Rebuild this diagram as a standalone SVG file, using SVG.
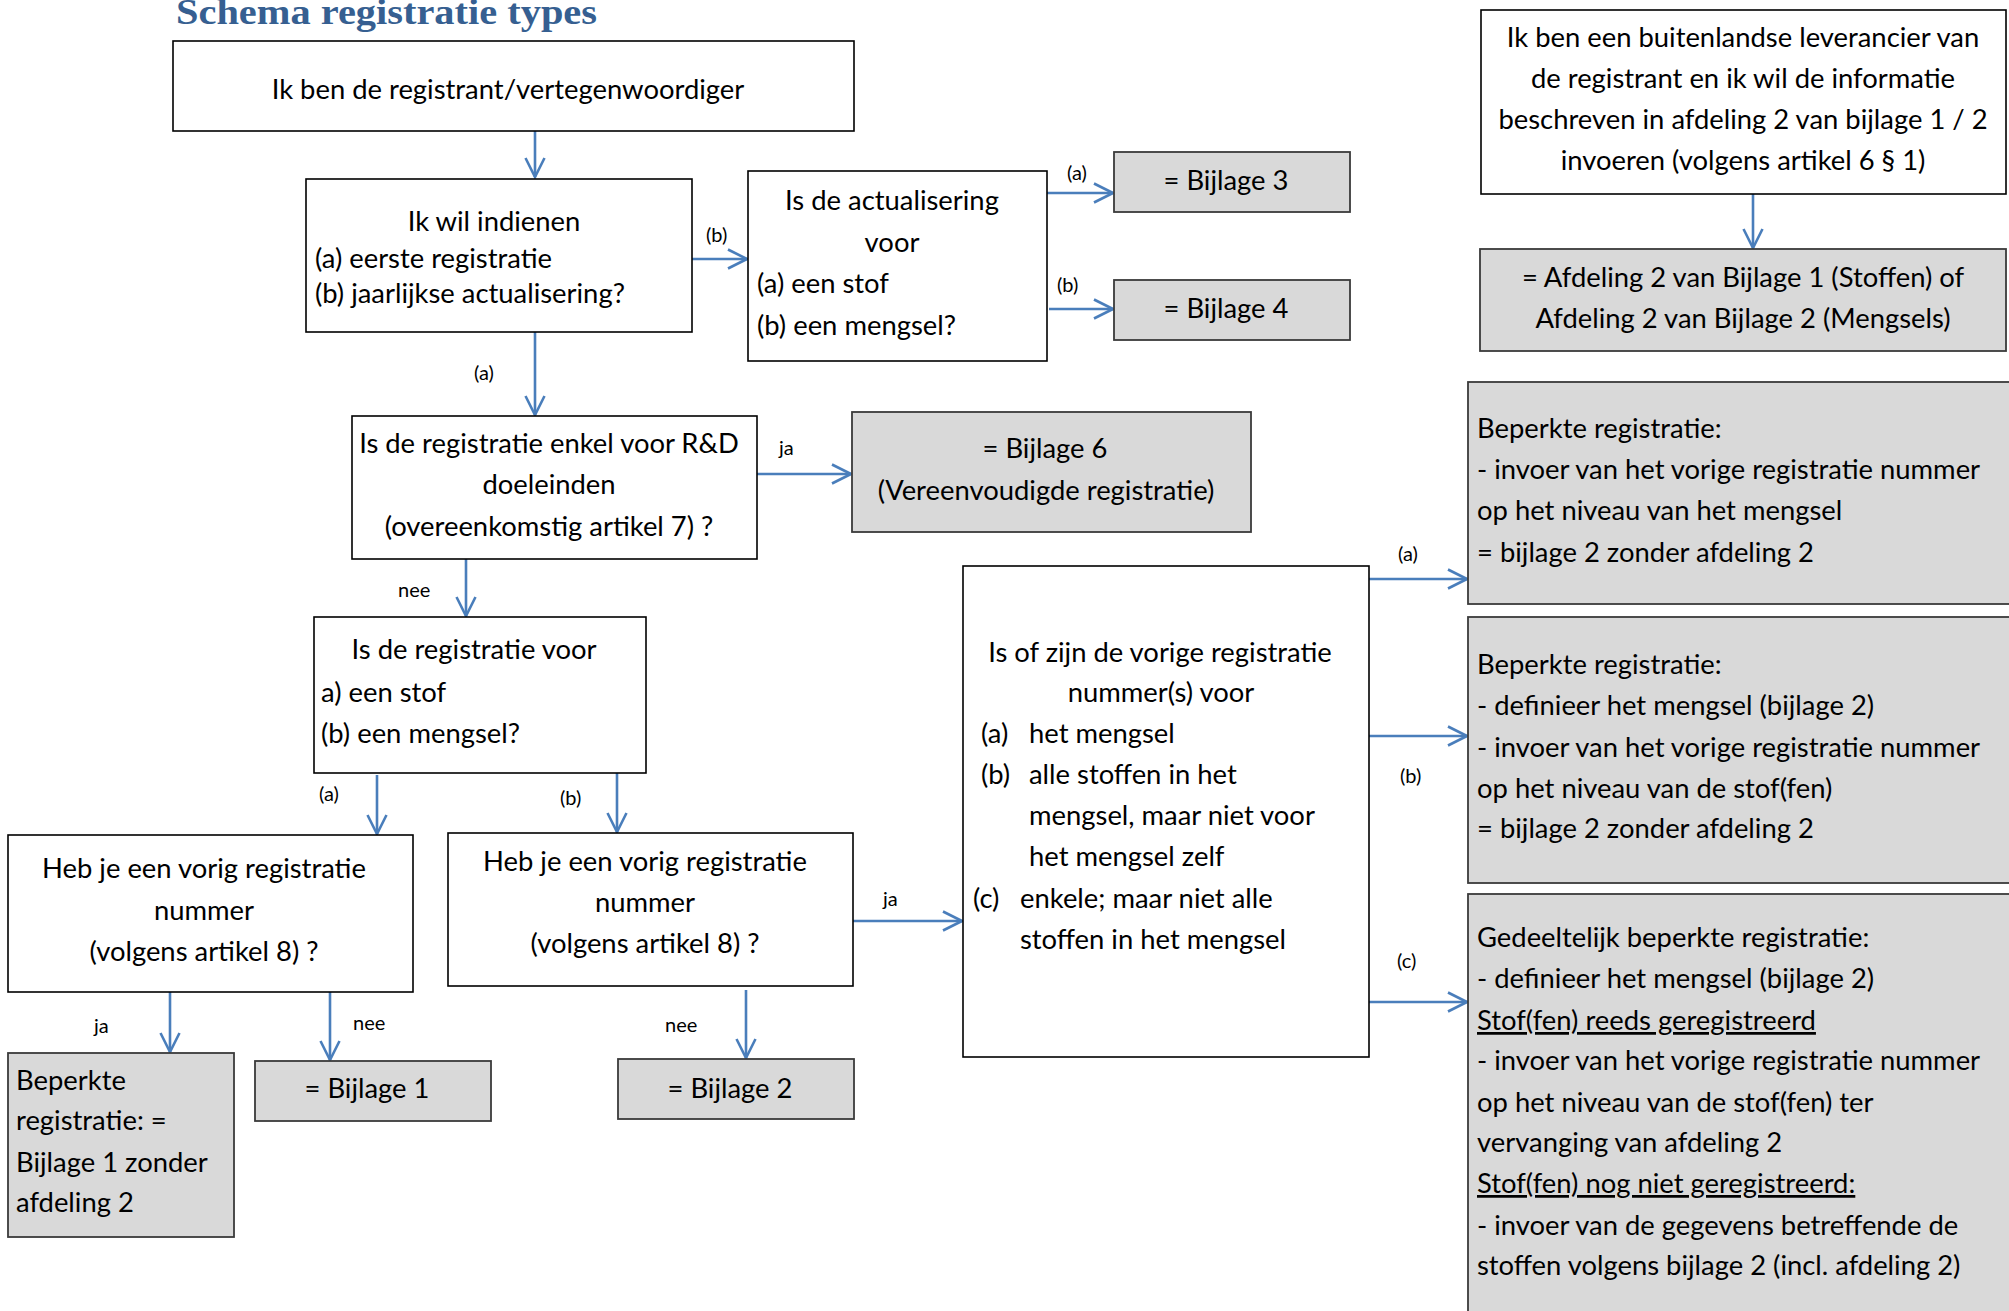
<svg xmlns="http://www.w3.org/2000/svg" width="2009" height="1311" viewBox="0 0 2009 1311">
<style>
.box{fill:#ffffff;stroke:#000000;stroke-width:1.6}
.gbox{fill:#d9d9d9;stroke:#3a3a3a;stroke-width:1.8}
.t{font-family:Lato,"Open Sans","Liberation Sans",sans-serif;font-size:27.4px;fill:#000}
.c{text-anchor:middle}
.lbl{font-family:Lato,"Open Sans","Liberation Sans",sans-serif;font-size:20px;fill:#000}
.conn{stroke:#4a7ebb;stroke-width:2.6;fill:none}
.u{text-decoration:underline}
</style>
<defs>
<marker id="arr" viewBox="-22 -12 24 24" markerWidth="24" markerHeight="24" refX="0" refY="0" orient="auto" markerUnits="userSpaceOnUse">
<path d="M-19,-9.5 L0,0 L-19,9.5" fill="none" stroke="#4a7ebb" stroke-width="2.6"/>
</marker>
</defs>
<rect width="2009" height="1311" fill="#ffffff"/>
<text x="176" y="24" font-family="'Liberation Serif',serif" font-weight="bold" font-size="35" fill="#365f91" textLength="421" lengthAdjust="spacingAndGlyphs">Schema registratie types</text>

<g id="connectors">
<line class="conn" x1="535" y1="131" x2="535" y2="177" marker-end="url(#arr)"/>
<line class="conn" x1="692" y1="259" x2="747" y2="259" marker-end="url(#arr)"/>
<text class="lbl" x="706" y="242">(b)</text>
<line class="conn" x1="535" y1="332" x2="535" y2="415" marker-end="url(#arr)"/>
<text class="lbl" x="474" y="380">(a)</text>
<line class="conn" x1="1047" y1="193" x2="1113" y2="193" marker-end="url(#arr)"/>
<text class="lbl" x="1067" y="180">(a)</text>
<line class="conn" x1="1049" y1="309" x2="1113" y2="309" marker-end="url(#arr)"/>
<text class="lbl" x="1057" y="292">(b)</text>
<line class="conn" x1="757" y1="474" x2="851" y2="474" marker-end="url(#arr)"/>
<text class="lbl" x="779" y="455">ja</text>
<line class="conn" x1="466" y1="559" x2="466" y2="616" marker-end="url(#arr)"/>
<text class="lbl" x="398" y="597">nee</text>
<line class="conn" x1="377" y1="775" x2="377" y2="834" marker-end="url(#arr)"/>
<text class="lbl" x="319" y="801">(a)</text>
<line class="conn" x1="617" y1="773" x2="617" y2="832" marker-end="url(#arr)"/>
<text class="lbl" x="560" y="805">(b)</text>
<line class="conn" x1="170" y1="992" x2="170" y2="1052" marker-end="url(#arr)"/>
<text class="lbl" x="94" y="1033">ja</text>
<line class="conn" x1="330" y1="992" x2="330" y2="1060" marker-end="url(#arr)"/>
<text class="lbl" x="353" y="1030">nee</text>
<line class="conn" x1="746" y1="990" x2="746" y2="1058" marker-end="url(#arr)"/>
<text class="lbl" x="665" y="1032">nee</text>
<line class="conn" x1="853" y1="921" x2="962" y2="921" marker-end="url(#arr)"/>
<text class="lbl" x="883" y="906">ja</text>
<line class="conn" x1="1753" y1="194" x2="1753" y2="248" marker-end="url(#arr)"/>
<line class="conn" x1="1369" y1="579" x2="1467" y2="579" marker-end="url(#arr)"/>
<text class="lbl" x="1398" y="561">(a)</text>
<line class="conn" x1="1369" y1="736" x2="1467" y2="736" marker-end="url(#arr)"/>
<text class="lbl" x="1400" y="783">(b)</text>
<line class="conn" x1="1369" y1="1002" x2="1467" y2="1002" marker-end="url(#arr)"/>
<text class="lbl" x="1397" y="968">(c)</text>
</g>

<g id="n1">
<rect class="box" x="173" y="41" width="681" height="90"/>
<text class="t c" x="508" y="99">Ik ben de registrant/vertegenwoordiger</text>
</g>
<g id="n2">
<rect class="box" x="306" y="179" width="386" height="153"/>
<text class="t c" x="494" y="231">Ik wil indienen</text>
<text class="t" x="315" y="268">(a) eerste registratie</text>
<text class="t" x="315" y="303">(b) jaarlijkse actualisering?</text>
</g>
<g id="n3">
<rect class="box" x="748" y="171" width="299" height="190"/>
<text class="t c" x="892" y="210">Is de actualisering</text>
<text class="t c" x="892" y="252">voor</text>
<text class="t" x="757" y="293">(a) een stof</text>
<text class="t" x="757" y="335">(b) een mengsel?</text>
</g>
<g id="b3">
<rect class="gbox" x="1114" y="152" width="236" height="60"/>
<text class="t c" x="1226" y="190">= Bijlage 3</text>
</g>
<g id="b4">
<rect class="gbox" x="1114" y="280" width="236" height="60"/>
<text class="t c" x="1226" y="318">= Bijlage 4</text>
</g>
<g id="n4">
<rect class="box" x="352" y="416" width="405" height="143"/>
<text class="t c" x="549" y="453">Is de registratie enkel voor R&amp;D</text>
<text class="t c" x="549" y="494">doeleinden</text>
<text class="t c" x="549" y="536">(overeenkomstig artikel 7) ?</text>
</g>
<g id="b6">
<rect class="gbox" x="852" y="412" width="399" height="120"/>
<text class="t c" x="1045" y="458">= Bijlage 6</text>
<text class="t c" x="1046" y="500">(Vereenvoudigde registratie)</text>
</g>
<g id="n5">
<rect class="box" x="314" y="617" width="332" height="156"/>
<text class="t c" x="474" y="659">Is de registratie voor</text>
<text class="t" x="321" y="702">a) een stof</text>
<text class="t" x="321" y="743">(b) een mengsel?</text>
</g>
<g id="n6">
<rect class="box" x="8" y="835" width="405" height="157"/>
<text class="t c" x="204" y="878">Heb je een vorig registratie</text>
<text class="t c" x="204" y="920">nummer</text>
<text class="t c" x="204" y="961">(volgens artikel 8) ?</text>
</g>
<g id="n7">
<rect class="box" x="448" y="833" width="405" height="153"/>
<text class="t c" x="645" y="871">Heb je een vorig registratie</text>
<text class="t c" x="645" y="912">nummer</text>
<text class="t c" x="645" y="953">(volgens artikel 8) ?</text>
</g>
<g id="bja1">
<rect class="gbox" x="8" y="1053" width="226" height="184"/>
<text class="t" x="16" y="1090">Beperkte</text>
<text class="t" x="16" y="1130">registratie: =</text>
<text class="t" x="16" y="1172">Bijlage 1 zonder</text>
<text class="t" x="16" y="1212">afdeling 2</text>
</g>
<g id="b1">
<rect class="gbox" x="255" y="1061" width="236" height="60"/>
<text class="t c" x="367" y="1098">= Bijlage 1</text>
</g>
<g id="b2">
<rect class="gbox" x="618" y="1059" width="236" height="60"/>
<text class="t c" x="730" y="1098">= Bijlage 2</text>
</g>
<g id="n8">
<rect class="box" x="963" y="566" width="406" height="491"/>
<text class="t c" x="1160" y="662">Is of zijn de vorige registratie</text>
<text class="t c" x="1161" y="702">nummer(s) voor</text>
<text class="t" x="981" y="743">(a)</text>
<text class="t" x="1029" y="743">het mengsel</text>
<text class="t" x="981" y="784">(b)</text>
<text class="t" x="1029" y="784">alle stoffen in het</text>
<text class="t" x="1029" y="825">mengsel, maar niet voor</text>
<text class="t" x="1029" y="866">het mengsel zelf</text>
<text class="t" x="973" y="908">(c)</text>
<text class="t" x="1020" y="908">enkele; maar niet alle</text>
<text class="t" x="1020" y="949">stoffen in het mengsel</text>
</g>
<g id="ntop">
<rect class="box" x="1481" y="10" width="525" height="184"/>
<text class="t c" x="1743" y="47">Ik ben een buitenlandse leverancier van</text>
<text class="t c" x="1743" y="88">de registrant en ik wil de informatie</text>
<text class="t c" x="1743" y="129">beschreven in afdeling 2 van bijlage 1 / 2</text>
<text class="t c" x="1743" y="170">invoeren (volgens artikel 6 § 1)</text>
</g>
<g id="nafd">
<rect class="gbox" x="1480" y="249" width="526" height="102"/>
<text class="t c" x="1743" y="287">= Afdeling 2 van Bijlage 1 (Stoffen) of</text>
<text class="t c" x="1743" y="328">Afdeling 2 van Bijlage 2 (Mengsels)</text>
</g>
<g id="n9">
<rect class="gbox" x="1468" y="382" width="560" height="222"/>
<text class="t" x="1477" y="438">Beperkte registratie:</text>
<text class="t" x="1477" y="479">- invoer van het vorige registratie nummer</text>
<text class="t" x="1477" y="520">op het niveau van het mengsel</text>
<text class="t" x="1477" y="562">= bijlage 2 zonder afdeling 2</text>
</g>
<g id="n10">
<rect class="gbox" x="1468" y="617" width="560" height="266"/>
<text class="t" x="1477" y="674">Beperkte registratie:</text>
<text class="t" x="1477" y="715">- definieer het mengsel (bijlage 2)</text>
<text class="t" x="1477" y="757">- invoer van het vorige registratie nummer</text>
<text class="t" x="1477" y="798">op het niveau van de stof(fen)</text>
<text class="t" x="1477" y="838">= bijlage 2 zonder afdeling 2</text>
</g>
<g id="n11">
<rect class="gbox" x="1468" y="894" width="560" height="440"/>
<text class="t" x="1477" y="947">Gedeeltelijk beperkte registratie:</text>
<text class="t" x="1477" y="988">- definieer het mengsel (bijlage 2)</text>
<text class="t u" x="1477" y="1030">Stof(fen) reeds geregistreerd</text>
<text class="t" x="1477" y="1070">- invoer van het vorige registratie nummer</text>
<text class="t" x="1477" y="1112">op het niveau van de stof(fen) ter</text>
<text class="t" x="1477" y="1152">vervanging van afdeling 2</text>
<text class="t u" x="1477" y="1193">Stof(fen) nog niet geregistreerd:</text>
<text class="t" x="1477" y="1235">- invoer van de gegevens betreffende de</text>
<text class="t" x="1477" y="1275">stoffen volgens bijlage 2 (incl. afdeling 2)</text>
</g>
</svg>
